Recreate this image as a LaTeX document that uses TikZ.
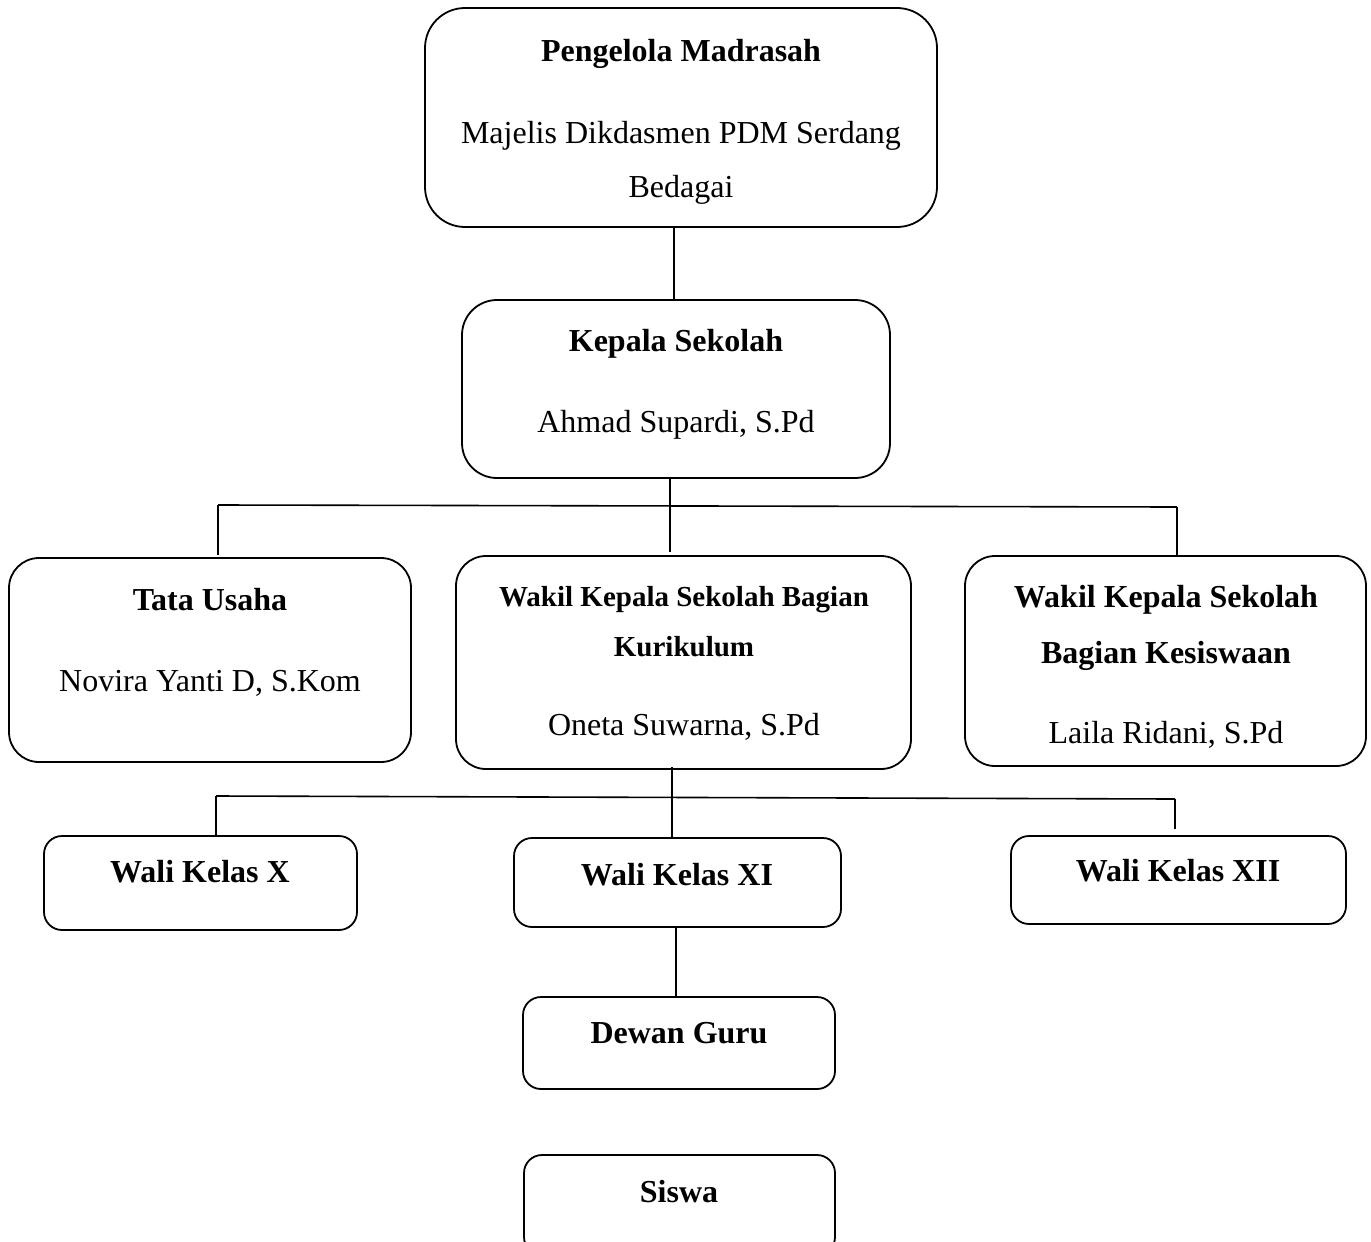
\documentclass[tikz,border=0pt]{standalone}
\usepackage{fontspec}
\setmainfont{Liberation Serif}
\begin{document}
\begin{tikzpicture}[x=1pt,y=-1pt,
  box/.style={draw, line width=1.8pt, inner sep=0pt, rounded corners=#1},
  box/.default=30pt,
  conn/.style={line width=1.6pt},
  tb/.style={anchor=base, font=\fontsize{32}{36}\selectfont\bfseries, inner sep=0pt},
  tbs/.style={anchor=base, font=\fontsize{29}{33}\selectfont\bfseries, inner sep=0pt},
  tr/.style={anchor=base, font=\fontsize{32}{36}\selectfont, inner sep=0pt}]
\clip (0,0) rectangle (1371,1242);
\useasboundingbox (0,0) rectangle (1371,1242);
% boxes
\node[box=40pt, minimum width=512pt, minimum height=219pt] (pm) at (681,117.5) {};
\node[box=35pt, minimum width=428pt, minimum height=178pt] (ks) at (676,389) {};
\node[box, minimum width=402pt, minimum height=204pt] (tu) at (210,660) {};
\node[box, minimum width=455pt, minimum height=213pt] (wk) at (683.5,662.5) {};
\node[box, minimum width=401pt, minimum height=210pt] (ws) at (1165.5,661) {};
\node[box=18pt, minimum width=313pt, minimum height=94pt] (w10) at (200.5,883) {};
\node[box=18pt, minimum width=327pt, minimum height=89pt] (w11) at (677.5,882.5) {};
\node[box=18pt, minimum width=335pt, minimum height=88pt] (w12) at (1178.5,880) {};
\node[box=18pt, minimum width=312pt, minimum height=92pt] (dg) at (679,1043) {};
\node[box=18pt, minimum width=311pt, minimum height=100pt] (sw) at (679.5,1205) {};
% texts
\node[tb] (t1) at (681,61) {Pengelola Madrasah};
\node[tr] (t2) at (681,143) {Majelis Dikdasmen PDM Serdang};
\node[tr] (t3) at (681,197) {Bedagai};
\node[tb] (t4) at (676,351) {Kepala Sekolah};
\node[tr] (t5) at (676,432) {Ahmad Supardi, S.Pd};
\node[tb] (t6) at (210,610) {Tata Usaha};
\node[tr] (t7) at (210,691) {Novira Yanti D, S.Kom};
\node[tbs] (t8) at (684,606) {Wakil Kepala Sekolah Bagian};
\node[tbs] (t9) at (684,656) {Kurikulum};
\node[tr] (t10) at (684,735) {Oneta Suwarna, S.Pd};
\node[tb] (t11) at (1166,607) {Wakil Kepala Sekolah};
\node[tb] (t12) at (1166,663) {Bagian Kesiswaan};
\node[tr] (t13) at (1166,743) {Laila Ridani, S.Pd};
\node[tb] (t14) at (200,882) {Wali Kelas X};
\node[tb] (t15) at (677,885) {Wali Kelas XI};
\node[tb] (t16) at (1178,881) {Wali Kelas XII};
\node[tb] (t17) at (679,1043) {Dewan Guru};
\node[tb] (t18) at (679,1202) {Siswa};
% bus coordinates
\coordinate (b1l) at (218,505);
\coordinate (b1r) at (1177,507);
\coordinate (b2l) at (216,796);
\coordinate (b2r) at (1175,799);
% connectors
\draw[conn] ([xshift=-7pt]pm.south) -- ([xshift=-2pt]ks.north);
\draw[conn] ([xshift=-6pt]ks.south) -- ([xshift=-13.5pt,yshift=3pt]wk.north);
\draw[conn] (b1l) -- (b1r);
\draw[conn] (b1l) -- ([yshift=2pt]tu.north -| b1l);
\draw[conn] (b1r) -- (ws.north -| b1r);
\draw[conn] ([xshift=-11.5pt,yshift=3pt]wk.south) -- ([xshift=-5.5pt]w11.north);
\draw[conn] (b2l) -- (b2r);
\draw[conn] (b2l) -- (w10.north -| b2l);
\draw[conn] (b2r) -- ([yshift=6pt]w12.north -| b2r);
\draw[conn] ([xshift=-1.5pt]w11.south) -- ([xshift=-3pt]dg.north);
\end{tikzpicture}
\end{document}
